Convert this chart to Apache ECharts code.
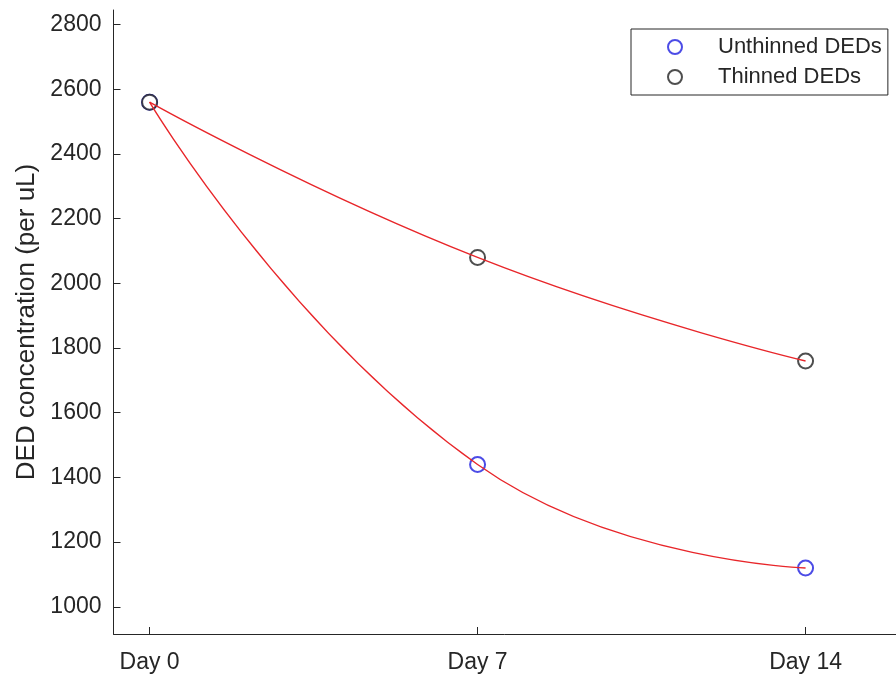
<!DOCTYPE html>
<html>
<head>
<meta charset="utf-8">
<script src="https://cdn.jsdelivr.net/npm/echarts@6/dist/echarts.min.js"></script>
<style>html,body{margin:0;padding:0;background:#fff}#c{width:896px;height:677px}</style>
</head>
<body>
<div id="c"></div>
<script>
const days = [0, 7, 14];
const dayLabels = ['Day 0', 'Day 7', 'Day 14'];
const unthinned = [2560, 1440, 1120];
const thinned = [2560, 2080, 1760];
const yTicks = [1000, 1200, 1400, 1600, 1800, 2000, 2200, 2400, 2600, 2800];
const seriesNames = ['Unthinned DEDs', 'Thinned DEDs'];

const FONT = 'Liberation Sans, Arial, Helvetica, sans-serif';
const AX = '#262626';

const pts = (vals) => days.map((d, i) => [d, vals[i]]);

const chart = echarts.init(document.getElementById('c'), null, {renderer: 'canvas'});
chart.setOption({
  animation: false,
  backgroundColor: '#fff',
  textStyle: {fontFamily: FONT},
  grid: {left: 113.5, right: 0, top: 10, bottom: 43, containLabel: false},
  legend: {
    data: seriesNames,
    orient: 'vertical',
    left: 631,
    top: 29,
    padding: [7, 6, 7, 36],
    itemGap: 8,
    itemWidth: 14,
    itemHeight: 14,
    borderColor: AX,
    borderWidth: 1,
    backgroundColor: '#fff',
    borderRadius: 0,
    textStyle: {fontFamily: FONT, fontSize: 22, color: AX, padding: [0, 0, 0, 31]}
  },
  xAxis: {
    type: 'value',
    min: -0.77,
    max: 15.93,
    splitLine: {show: false},
    axisLine: {onZero: false, lineStyle: {color: AX, width: 1}},
    axisTick: {inside: false, length: -7, lineStyle: {color: AX}, customValues: days},
    axisLabel: {
      customValues: days,
      margin: 17,
      fontSize: 23,
      fontFamily: FONT,
      color: AX,
      formatter: (v) => dayLabels[days.indexOf(v)] || ''
    }
  },
  yAxis: {
    type: 'value',
    min: 916,
    max: 2845,
    name: 'DED concentration (per uL)',
    nameLocation: 'middle',
    nameGap: 70,
    nameTextStyle: {fontSize: 26, fontFamily: FONT, color: AX},
    splitLine: {show: false},
    axisLine: {show: true, onZero: false, lineStyle: {color: AX, width: 1}},
    axisTick: {show: true, inside: false, length: -7, lineStyle: {color: AX}, customValues: yTicks},
    axisLabel: {customValues: yTicks, margin: 12, fontSize: 23, fontFamily: FONT, color: AX,
      formatter: (v) => String(v)}
  },
  series: [
    {
      name: seriesNames[0], type: 'scatter', data: pts(unthinned),
      symbol: 'emptyCircle', symbolSize: 15, z: 2,
      itemStyle: {color: '#1f1fe0', borderColor: '#1f1fe0', borderWidth: 1.4}
    },
    {
      name: seriesNames[1], type: 'scatter', data: pts(thinned),
      symbol: 'emptyCircle', symbolSize: 15, z: 2,
      itemStyle: {color: '#222', borderColor: '#222', borderWidth: 1.4}
    },
    {
      name: 'Unthinned fit', type: 'line', data: pts(unthinned), smooth: 0.5,
      showSymbol: false, symbol: 'none', z: 3,
      lineStyle: {color: '#e8262a', width: 1.4}
    },
    {
      name: 'Thinned fit', type: 'line', data: pts(thinned), smooth: 0.5,
      showSymbol: false, symbol: 'none', z: 3,
      lineStyle: {color: '#e8262a', width: 1.4}
    }
  ]
});
</script>
</body>
</html>
